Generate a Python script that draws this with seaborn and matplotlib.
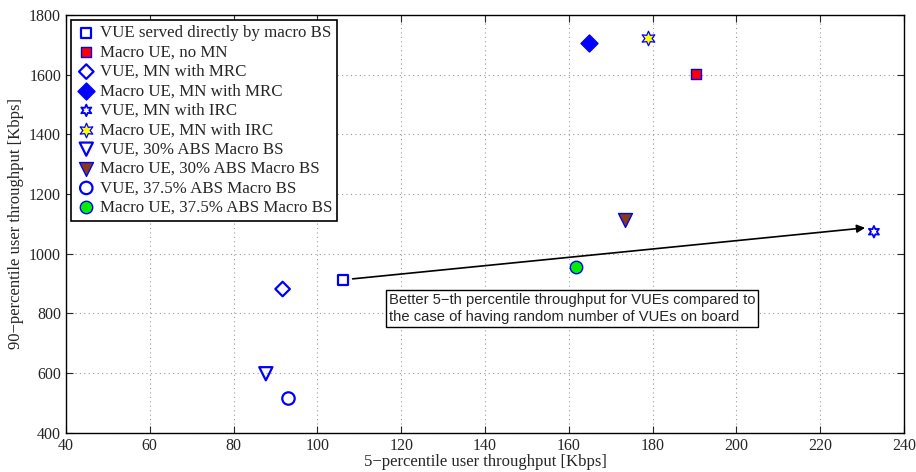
import matplotlib
matplotlib.use("Agg")
import matplotlib.pyplot as plt
import seaborn as sns
import pandas as pd

# series
labels = [
    "VUE served directly by macro BS",
    "Macro UE, no MN",
    "VUE, MN with MRC",
    "Macro UE, MN with MRC",
    "VUE, MN with IRC",
    "Macro UE, MN with IRC",
    "VUE, 30% ABS Macro BS",
    "Macro UE, 30% ABS Macro BS",
    "VUE, 37.5% ABS Macro BS",
    "Macro UE, 37.5% ABS Macro BS",
]
p5 = [106.2, 190.4, 91.7, 164.8, 232.8, 179.0, 87.7, 173.4, 93.1, 161.7]
p90 = [913, 1603, 882, 1707, 1074, 1723, 598, 1113, 515, 955]

markers = ["s", "s", "D", "D", (6, 1, 0), (6, 1, 0), "v", "v", "o", "o"]
faces = ["none", "red", "none", "blue", "none", "yellow", "none", "#8b3a0f", "none", "#00ee00"]
sizes = [50, 60, 55, 75, 70, 110, 90, 100, 80, 80]
widths = [1.6, 1.0, 1.6, 1.0, 1.3, 0.9, 1.6, 1.0, 1.6, 1.0]

arrow_start = (108.4, 916)
arrow_end = (230.7, 1087)
note = "Better 5\u2212th percentile throughput for VUEs compared to\nthe case of having random number of VUEs on board"

df = pd.DataFrame({"x": p5, "y": p90, "label": labels})

sns.set_style("ticks")
plt.rcParams["font.family"] = ["Liberation Serif", "DejaVu Serif"]

fig = plt.figure(figsize=(9.16, 4.72), dpi=100)
ax = fig.add_axes([0.072, 0.083, 0.915, 0.885])

for i, row in df.iterrows():
    sns.scatterplot(x=[row["x"]], y=[row["y"]], ax=ax, marker=markers[i], s=sizes[i],
                    facecolor=faces[i], edgecolor="blue", linewidth=widths[i],
                    label=row["label"], zorder=3)

ax.annotate("", xy=arrow_end, xytext=arrow_start,
            arrowprops=dict(arrowstyle="-|>", color="black", lw=1.2, mutation_scale=12,
                            shrinkA=0, shrinkB=0))
ax.text(117.0, 816, note, ha="left", va="center", fontsize=10.6,
        family=["Liberation Sans", "DejaVu Sans"], linespacing=1.25,
        bbox=dict(boxstyle="square,pad=0.2", fc="white", ec="black", lw=1))

ax.set_xlim(40, 240)
ax.set_ylim(400, 1800)
ax.set_xticks(range(40, 241, 20))
ax.set_yticks(range(400, 1801, 200))
ax.grid(True, linestyle=(0, (1, 3)), color="#999999", linewidth=0.8)
ax.tick_params(direction="in", top=True, right=True, labelsize=11.5, length=5)
for sp in ax.spines.values():
    sp.set_visible(True)
    sp.set_color("black")
    sp.set_linewidth(1)

ax.set_xlabel("5\u2212percentile user throughput [Kbps]", fontsize=12, labelpad=0)
ax.set_ylabel("90\u2212percentile user throughput [Kbps]", fontsize=12, labelpad=4)

leg = ax.legend(loc="upper left", fontsize=12.2, frameon=True, fancybox=False,
                framealpha=1, edgecolor="black", borderaxespad=0.3, handletextpad=0.2,
                labelspacing=0.2, handlelength=1.2, borderpad=0.3)
leg.get_frame().set_linewidth(1.2)

fig.savefig("out.png", dpi=100)
